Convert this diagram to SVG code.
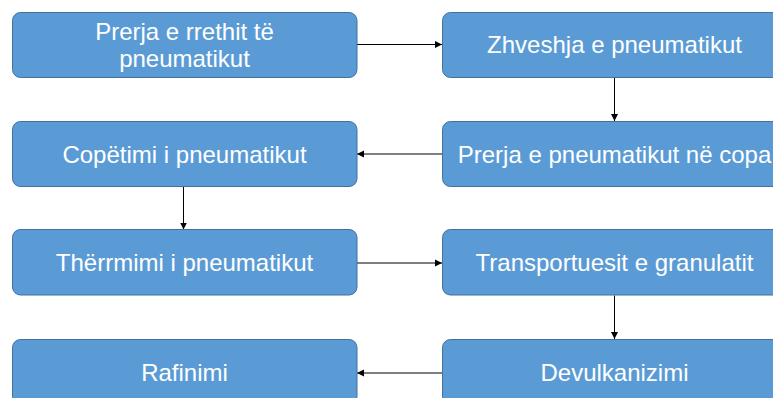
<svg xmlns="http://www.w3.org/2000/svg" width="773" height="398" viewBox="0 0 773 398">
<defs>
<style>
.box{fill:#5B9BD5;stroke:#41719C;stroke-width:1}
.t{font-family:"Liberation Sans",Arial,sans-serif;font-size:24px;fill:#FFFFFF;text-anchor:middle}
.c{stroke:#000000;stroke-width:1;fill:none;marker-end:url(#ah)}
</style>
<marker id="ah" markerWidth="8" markerHeight="8" refX="7" refY="4" orient="auto" markerUnits="userSpaceOnUse">
<path d="M0,0.5 L7,4 L0,7.5 Z" fill="#000000"/>
</marker>
</defs>
<rect width="773" height="398" fill="#FFFFFF"/>
<g id="connectors">
<line class="c" x1="357" y1="44.5" x2="442" y2="44.5"/>
<line class="c" x1="614.5" y1="77.5" x2="614.5" y2="121"/>
<line class="c" x1="442" y1="154" x2="357" y2="154"/>
<line class="c" x1="183.5" y1="187" x2="183.5" y2="229.5"/>
<line class="c" x1="357" y1="263" x2="442" y2="263"/>
<line class="c" x1="614.5" y1="295.5" x2="614.5" y2="339"/>
<line class="c" x1="442" y1="373" x2="357" y2="373"/>
</g>
<g id="n1">
<rect class="box" x="12.5" y="12.5" width="344.5" height="65" rx="8"/>
<text class="t" x="184.5" y="39.5">Prerja e rrethit të</text>
<text class="t" x="184.5" y="67">pneumatikut</text>
</g>
<g id="n2">
<rect class="box" x="442.5" y="12.5" width="344.5" height="65" rx="8"/>
<text class="t" x="614.5" y="52.5">Zhveshja e pneumatikut</text>
</g>
<g id="n3">
<rect class="box" x="442.5" y="121.5" width="344.5" height="65" rx="8"/>
<text class="t" x="614.5" y="162.5">Prerja e pneumatikut në copa</text>
</g>
<g id="n4">
<rect class="box" x="12.5" y="121.5" width="344.5" height="65" rx="8"/>
<text class="t" x="184.5" y="162.5">Copëtimi i pneumatikut</text>
</g>
<g id="n5">
<rect class="box" x="12.5" y="229.5" width="344.5" height="65.5" rx="8"/>
<text class="t" x="184.5" y="271">Thërrmimi i pneumatikut</text>
</g>
<g id="n6">
<rect class="box" x="442.5" y="229.5" width="344.5" height="65.5" rx="8"/>
<text class="t" x="614.5" y="271">Transportuesit e granulatit</text>
</g>
<g id="n7">
<rect class="box" x="442.5" y="339.5" width="344.5" height="65" rx="8"/>
<text class="t" x="614.5" y="380.5">Devulkanizimi</text>
</g>
<g id="n8">
<rect class="box" x="12.5" y="339.5" width="344.5" height="65" rx="8"/>
<text class="t" x="184.5" y="380.5">Rafinimi</text>
</g>
</svg>
